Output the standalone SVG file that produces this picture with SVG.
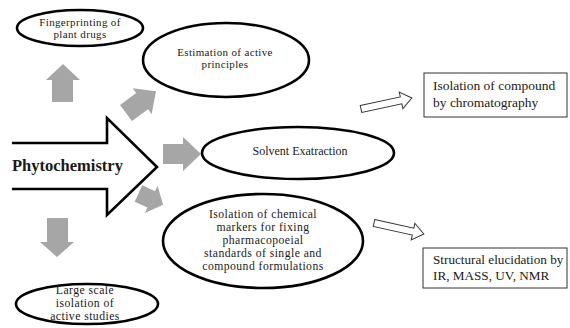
<svg xmlns="http://www.w3.org/2000/svg" width="570" height="328" viewBox="0 0 570 328">
<style>
.ell{fill:#fff;stroke:#000;stroke-width:2.6}
.box{fill:#fff;stroke:#333;stroke-width:1}
.t{font-family:"Liberation Serif","Times New Roman",serif;fill:#1a1a1a}
.c{text-anchor:middle}
.g{fill:#a6a6a6}
.oa{fill:#fff;stroke:#333;stroke-width:1}
.s11{font-size:11px;letter-spacing:0.35px}
.s12{font-size:11.7px;letter-spacing:0.45px}
</style>
<rect width="570" height="328" fill="#fff"/>
<g id="connectors">
<polygon class="g" points="63,64 80,80 73,80 73,102 52,102 52,80 46,80"/>
<polygon class="g" points="47,218 68,218 68,242 74,242 57,257 40,242 47,242"/>
<polygon class="g" points="163,144 183,144 183,137 201,154 183,171 183,164 163,164"/>
<polygon class="g" points="120.1,104.9 136.1,93.1 132.8,88.2 156,91.2 151.6,114.2 148.1,109.3 131.9,121.1"/>
<polygon class="g" points="142.3,185.3 155,191.2 157.5,185.7 163.1,204.8 144.9,213.1 147.4,207.6 134.7,201.7"/>
<path class="oa" transform="translate(361,109) rotate(-12.2)" d="M0,-3.5 H41 V-8.5 L52,0 L41,8.5 V3.5 H0 Z"/>
<path class="oa" transform="translate(374,223) rotate(12.4)" d="M0,-3.5 H40 V-8.5 L51,0 L40,8.5 V3.5 H0 Z"/>
</g>
<g id="phytochemistry">
<polyline points="12,143 107,143 107,118 157,167 107,215 107,189 12,189" fill="#fff" stroke="#000" stroke-width="2.6" stroke-linejoin="miter"/>
<text class="t" x="12" y="171" font-size="16.5" font-weight="bold">Phytochemistry</text>
</g>
<g id="fingerprinting">
<ellipse class="ell" cx="80" cy="28" rx="63" ry="18"/>
<text class="t c s11" x="80" y="26" >Fingerprinting of</text>
<text class="t c s11" x="80" y="38.4">plant drugs</text>
</g>
<g id="estimation">
<ellipse class="ell" cx="226" cy="60" rx="83" ry="37"/>
<text class="t c s11" x="225" y="56">Estimation of active</text>
<text class="t c s11" x="225" y="68.4">principles</text>
</g>
<g id="solvent">
<ellipse class="ell" cx="298" cy="153" rx="96" ry="26"/>
<text class="t c" x="300" y="155" font-size="12">Solvent Exatraction</text>
</g>
<g id="markers">
<ellipse class="ell" cx="263" cy="241" rx="100" ry="47"/>
<text class="t c s12" x="263" y="218">Isolation of chemical</text>
<text class="t c s12" x="263" y="231">markers for fixing</text>
<text class="t c s12" x="263" y="244">pharmacopoeial</text>
<text class="t c s12" x="263" y="257">standards of single and</text>
<text class="t c s12" x="263" y="270">compound formulations</text>
</g>
<g id="largescale">
<ellipse class="ell" cx="87" cy="304" rx="71" ry="20"/>
<text class="t c s12" x="85" y="294">Large scale</text>
<text class="t c s12" x="85" y="307">isolation of</text>
<text class="t c s12" x="85" y="320">active studies</text>
</g>
<g id="chromatography">
<rect class="box" x="424" y="73" width="143" height="44"/>
<text class="t" x="433" y="90" font-size="13.5">Isolation of compound</text>
<text class="t" x="433" y="107" font-size="13.5">by chromatography</text>
</g>
<g id="structural">
<rect class="box" x="423" y="248" width="144" height="40"/>
<text class="t" x="433" y="264" font-size="13.2">Structural elucidation by</text>
<text class="t" x="433" y="280" font-size="13.2">IR, MASS, UV, NMR</text>
</g>
</svg>
